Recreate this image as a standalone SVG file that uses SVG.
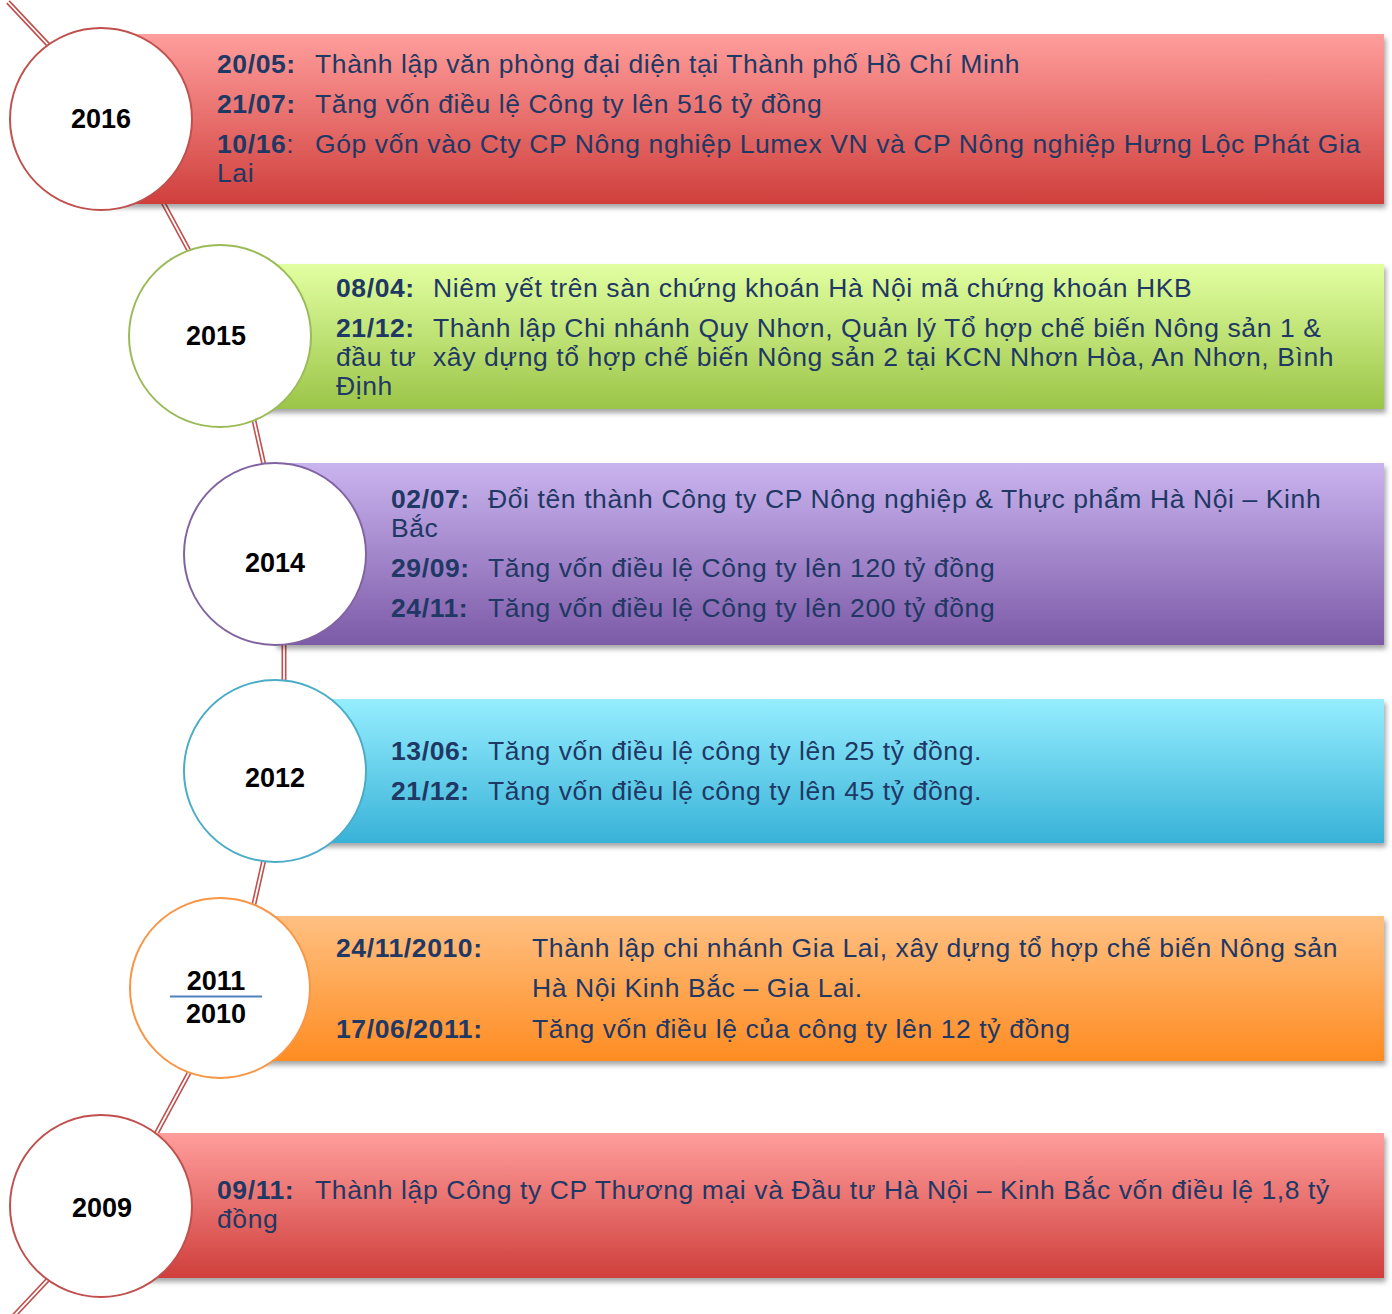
<svg xmlns="http://www.w3.org/2000/svg" xmlns:xlink="http://www.w3.org/1999/xlink" width="1392" height="1314" viewBox="0 0 1392 1314">
<style>
  .t { font-family: "Liberation Sans", Arial, sans-serif; font-size: 26.5px; letter-spacing: 0.6px; fill: #1f3864; }
  .b { font-weight: bold; }
  .yr { font-family: "Liberation Sans", Arial, sans-serif; font-size: 27px; font-weight: bold; fill: #000; text-anchor: middle; }
  .circ { fill: #fff; stroke-width: 2; }
  .lineOuter { fill: none; stroke: #c0504d; stroke-width: 5; stroke-linejoin: round; }
  .lineInner { fill: none; stroke: #fff; stroke-width: 1.8; stroke-linejoin: round; }
</style>
<defs>
  <linearGradient id="gRed" x1="0" y1="0" x2="0" y2="1">
    <stop offset="0" stop-color="#ff9e9c"/>
    <stop offset="1" stop-color="#cf3f3c"/>
  </linearGradient>
  <linearGradient id="gGreen" x1="0" y1="0" x2="0" y2="1">
    <stop offset="0" stop-color="#e2ffa1"/>
    <stop offset="1" stop-color="#9bc548"/>
  </linearGradient>
  <linearGradient id="gPurple" x1="0" y1="0" x2="0" y2="1">
    <stop offset="0" stop-color="#cab4ef"/>
    <stop offset="1" stop-color="#7c5aa7"/>
  </linearGradient>
  <linearGradient id="gCyan" x1="0" y1="0" x2="0" y2="1">
    <stop offset="0" stop-color="#96eeff"/>
    <stop offset="1" stop-color="#38b2d8"/>
  </linearGradient>
  <linearGradient id="gOrange" x1="0" y1="0" x2="0" y2="1">
    <stop offset="0" stop-color="#ffc082"/>
    <stop offset="1" stop-color="#fe8c22"/>
  </linearGradient>
  <filter id="shadow" x="-5%" y="-20%" width="110%" height="140%">
    <feDropShadow dx="2" dy="4" stdDeviation="2.5" flood-color="#000" flood-opacity="0.35"/>
  </filter>
  <path id="timeline" d="M 8 2 L 118 119 L 235 336 L 284 554 L 284 771 L 235 988 L 117 1206 L 10 1320"/>
</defs>

<g id="connectors">
  <use xlink:href="#timeline" href="#timeline" class="lineOuter"/>
  <use xlink:href="#timeline" href="#timeline" class="lineInner"/>
</g>

<g id="node-2016">
  <rect x="101" y="34" width="1283" height="170" fill="url(#gRed)" filter="url(#shadow)"/>
  <circle class="circ" cx="101" cy="119" r="91" stroke="#c0504d"/>
  <text class="yr" x="101" y="128">2016</text>
  <text class="t b" x="217" y="73">20/05:</text>
  <text class="t" x="315" y="73">Thành lập văn phòng đại diện tại Thành phố Hồ Chí Minh</text>
  <text class="t b" x="217" y="113">21/07:</text>
  <text class="t" x="315" y="113">Tăng vốn điều lệ Công ty lên 516 tỷ đồng</text>
  <text class="t" x="217" y="153"><tspan class="b">10/16</tspan>:</text>
  <text class="t" x="315" y="153">Góp vốn vào Cty CP Nông nghiệp Lumex VN và CP Nông nghiệp Hưng Lộc Phát Gia</text>
  <text class="t" x="217" y="182">Lai</text>
</g>

<g id="node-2015">
  <rect x="220" y="264" width="1164" height="145" fill="url(#gGreen)" filter="url(#shadow)"/>
  <circle class="circ" cx="220" cy="336" r="91" stroke="#9bbb59"/>
  <text class="yr" x="216" y="345">2015</text>
  <text class="t b" x="336" y="297">08/04:</text>
  <text class="t" x="433" y="297">Niêm yết trên sàn chứng khoán Hà Nội mã chứng khoán HKB</text>
  <text class="t b" x="336" y="337">21/12:</text>
  <text class="t" x="433" y="337">Thành lập Chi nhánh Quy Nhơn, Quản lý Tổ hợp chế biến Nông sản 1 &amp;</text>
  <text class="t" x="336" y="366">đầu tư</text>
  <text class="t" x="433" y="366">xây dựng tổ hợp chế biến Nông sản 2 tại KCN Nhơn Hòa, An Nhơn, Bình</text>
  <text class="t" x="336" y="395">Định</text>
</g>

<g id="node-2014">
  <rect x="275" y="463" width="1109" height="182" fill="url(#gPurple)" filter="url(#shadow)"/>
  <circle class="circ" cx="275" cy="554" r="91" stroke="#8064a2"/>
  <text class="yr" x="275" y="572">2014</text>
  <text class="t b" x="391" y="508">02/07:</text>
  <text class="t" x="488" y="508">Đổi tên thành Công ty CP Nông nghiệp &amp; Thực phẩm Hà Nội – Kinh</text>
  <text class="t" x="391" y="537">Bắc</text>
  <text class="t b" x="391" y="577">29/09:</text>
  <text class="t" x="488" y="577">Tăng vốn điều lệ Công ty lên 120 tỷ đồng</text>
  <text class="t b" x="391" y="617">24/11:</text>
  <text class="t" x="488" y="617">Tăng vốn điều lệ Công ty lên 200 tỷ đồng</text>
</g>

<g id="node-2012">
  <rect x="275" y="699" width="1109" height="144" fill="url(#gCyan)" filter="url(#shadow)"/>
  <circle class="circ" cx="275" cy="771" r="91" stroke="#4bacc6"/>
  <text class="yr" x="275" y="787">2012</text>
  <text class="t b" x="391" y="760">13/06:</text>
  <text class="t" x="488" y="760">Tăng vốn điều lệ công ty lên 25 tỷ đồng.</text>
  <text class="t b" x="391" y="800">21/12:</text>
  <text class="t" x="488" y="800">Tăng vốn điều lệ công ty lên 45 tỷ đồng.</text>
</g>

<g id="node-2011-2010">
  <rect x="220" y="916" width="1164" height="145" fill="url(#gOrange)" filter="url(#shadow)"/>
  <circle class="circ" cx="220" cy="988" r="90" stroke="#f79646"/>
  <text class="yr" x="216" y="990">2011</text>
  <line x1="170" y1="996.5" x2="262" y2="996.5" stroke="#4f81bd" stroke-width="2"/>
  <text class="yr" x="216" y="1023">2010</text>
  <text class="t b" x="336" y="957">24/11/2010:</text>
  <text class="t" x="532" y="957">Thành lập chi nhánh Gia Lai, xây dựng tổ hợp chế biến Nông sản</text>
  <text class="t" x="532" y="997">Hà Nội Kinh Bắc – Gia Lai.</text>
  <text class="t b" x="336" y="1038">17/06/2011:</text>
  <text class="t" x="532" y="1038">Tăng vốn điều lệ của công ty lên 12 tỷ đồng</text>
</g>

<g id="node-2009">
  <rect x="101" y="1133" width="1283" height="145" fill="url(#gRed)" filter="url(#shadow)"/>
  <circle class="circ" cx="101" cy="1206" r="91" stroke="#c0504d"/>
  <text class="yr" x="102" y="1217">2009</text>
  <text class="t b" x="217" y="1199">09/11:</text>
  <text class="t" x="315" y="1199">Thành lập Công ty CP Thương mại và Đầu tư Hà Nội – Kinh Bắc vốn điều lệ 1,8 tỷ</text>
  <text class="t" x="217" y="1228">đồng</text>
</g>
</svg>
